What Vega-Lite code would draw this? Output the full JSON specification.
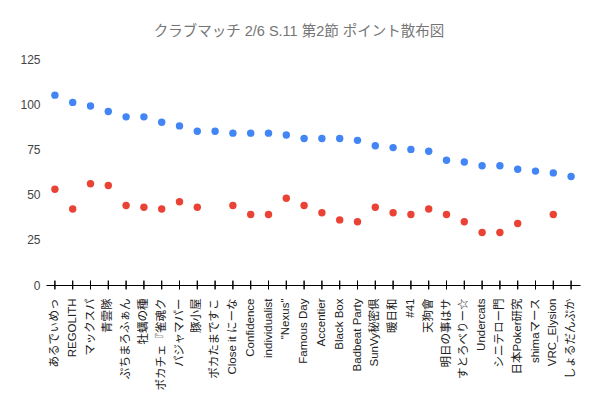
{
  "$schema": "https://vega.github.io/schema/vega-lite/v6.json",
  "width": 534,
  "height": 226,
  "autosize": {"type": "none"},
  "padding": {"left": 46, "top": 59, "right": 20, "bottom": 114},
  "background": "white",
  "title": {
    "text": "クラブマッチ 2/6 S.11 第2節 ポイント散布図",
    "fontSize": 14.5,
    "fontWeight": "normal",
    "color": "#757575",
    "font": "Liberation Sans, Noto Sans CJK JP, sans-serif",
    "anchor": "middle",
    "dx": -14,
    "offset": 14
  },
  "config": {
    "view": {"stroke": null},
    "font": "Liberation Sans, Noto Sans CJK JP, sans-serif"
  },
  "data": {
    "values": [
      {"チーム": "あるでぃめっ", "系列1": 105, "系列2": 53},
      {"チーム": "REGOLITH", "系列1": 101, "系列2": 42},
      {"チーム": "マックスパ", "系列1": 99, "系列2": 56},
      {"チーム": "青雲隊", "系列1": 96, "系列2": 55},
      {"チーム": "ぷちまろふぁん", "系列1": 93, "系列2": 44},
      {"チーム": "牡蠣の種", "系列1": 93, "系列2": 43},
      {"チーム": "ポカチェ『雀魂ク", "系列1": 90, "系列2": 42},
      {"チーム": "パジャマパー", "系列1": 88, "系列2": 46},
      {"チーム": "豚小屋", "系列1": 85, "系列2": 43},
      {"チーム": "ポカたまですこ", "系列1": 85, "系列2": null},
      {"チーム": "Close it にーな", "系列1": 84, "系列2": 44},
      {"チーム": "Confidence", "系列1": 84, "系列2": 39},
      {"チーム": "individualist", "系列1": 84, "系列2": 39},
      {"チーム": "\"Nexus\"", "系列1": 83, "系列2": 48},
      {"チーム": "Famous Day", "系列1": 81, "系列2": 44},
      {"チーム": "Accentier", "系列1": 81, "系列2": 40},
      {"チーム": "Black Box", "系列1": 81, "系列2": 36},
      {"チーム": "Badbeat Party", "系列1": 80, "系列2": 35},
      {"チーム": "SunVy秘密倶", "系列1": 77, "系列2": 43},
      {"チーム": "暖日和", "系列1": 76, "系列2": 40},
      {"チーム": "#41", "系列1": 75, "系列2": 39},
      {"チーム": "天狗會", "系列1": 74, "系列2": 42},
      {"チーム": "明日の事はサ", "系列1": 69, "系列2": 39},
      {"チーム": "すとろべりー☆", "系列1": 68, "系列2": 35},
      {"チーム": "Undercats", "系列1": 66, "系列2": 29},
      {"チーム": "シニテロー門", "系列1": 66, "系列2": 29},
      {"チーム": "日本Poker研究", "系列1": 64, "系列2": 34},
      {"チーム": "shimaマース", "系列1": 63, "系列2": null},
      {"チーム": "VRC_Elysion", "系列1": 62, "系列2": 39},
      {"チーム": "しょるだんぷか", "系列1": 60, "系列2": null}
    ]
  },
  "transform": [
    {"fold": ["系列1", "系列2"], "as": ["系列", "ポイント"]}
  ],
  "encoding": {
    "x": {
      "field": "チーム",
      "type": "nominal",
      "sort": null,
      "title": null,
      "axis": {
        "labelAngle": 270,
        "labelFontSize": 11.5,
        "labelColor": "#222222",
        "labelPadding": 13,
        "ticks": false,
        "domainColor": "#000000",
        "domainWidth": 1,
        "grid": false,
        "zindex": 1
      }
    }
  },
  "layer": [
    {
      "mark": {"type": "rule", "color": "#000000", "strokeWidth": 1},
      "encoding": {
        "y": {"datum": 2.4, "type": "quantitative", "scale": {"domain": [0, 125], "nice": false}},
        "y2": {"datum": -2.4}
      }
    },
    {
      "mark": {"type": "circle", "size": 55, "opacity": 1},
      "encoding": {
        "y": {
          "field": "ポイント",
          "type": "quantitative",
          "title": null,
          "scale": {"domain": [0, 125], "nice": false},
          "axis": {
            "values": [0, 25, 50, 75, 100, 125],
            "domain": false,
            "ticks": false,
            "labelFontSize": 12,
            "labelColor": "#444444",
            "labelPadding": 6,
            "gridColor": "#cccccc",
            "gridWidth": 1
          }
        },
        "color": {
          "field": "系列",
          "type": "nominal",
          "scale": {"domain": ["系列1", "系列2"], "range": ["#4285F4", "#EA4335"]},
          "legend": null
        }
      }
    }
  ]
}
